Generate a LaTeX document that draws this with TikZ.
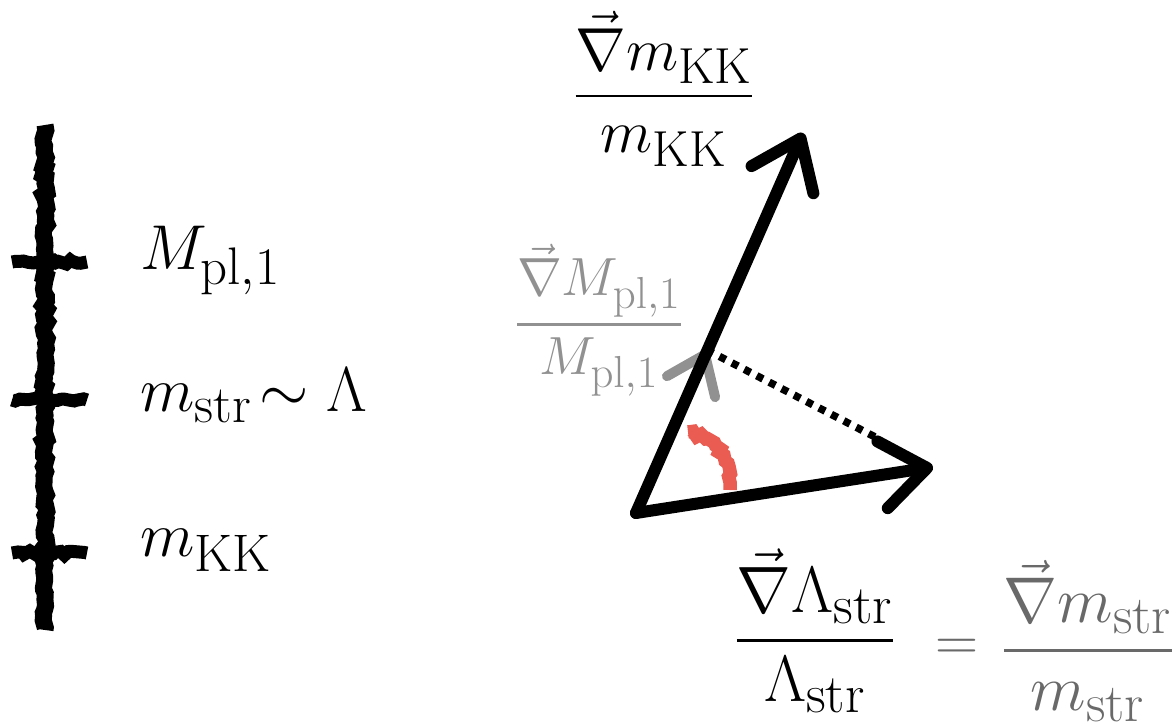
\documentclass[tikz,border=0pt]{standalone}
\usepackage{amsmath}
\usepackage{xcolor}
\usetikzlibrary{arrows.meta,decorations.pathmorphing,calc}
\definecolor{brushred}{RGB}{234,92,82}
\definecolor{lightgray}{RGB}{145,145,145}
\definecolor{midgray}{RGB}{105,105,105}

\begin{document}
\begin{tikzpicture}[
    label/.style={font=\Huge, inner sep=0pt, scale=#1, transform shape},
    label/.default=1.366,
    rough/.style={decorate, decoration={random steps, segment length=2.5pt, amplitude=1.2pt}},
    vec/.style={draw=#1, line width=0.24cm, line cap=round,
                -{Straight Barb[length=0.9cm, width=1.35cm, round]}},
]
\useasboundingbox (0,0) rectangle (23.52,14.44);

% Skala
\draw[rough, line width=0.34cm] (0.9,11.94) -- (0.9,1.84);
\foreach \y in {9.2,6.44,3.38}
  \draw[rough, line width=0.26cm] (0.24,\y) -- (1.74,\y);

\node[label=1.45, anchor=base west] (mpl) at (2.8,9.04) {$M_{\mathrm{pl},1}$};
\node[label=1.45, anchor=base west] (mstr) at (2.8,6.2) {$m_{\mathrm{str}}\!\sim\Lambda$};
\node[label=1.45, anchor=base west] (mkk) at (2.8,3.3) {$m_{\mathrm{KK}}$};

% Vektoren
\coordinate (O) at (12.72,4.18);
\coordinate (A) at (16.06,11.78);
\coordinate (B) at (18.66,5.10);
\coordinate (G) at (14.14,7.44);

\draw[vec=lightgray, line width=0.2cm, -{Straight Barb[length=0.7cm, width=1.05cm, round]}] (O) -- (G);
\draw[vec=black] (O) -- (A);
\draw[vec=black] (O) -- (B);
\draw[line width=0.15cm, dash pattern=on 0.14cm off 0.14cm] (G) -- ($(G)!0.76!(B)$);
\draw[rough, brushred, line width=0.27cm] (13.76,5.8) .. controls (14.4,5.64) and (14.68,5.14) .. (14.6,4.64);

% Beschriftungen
\node[label=1.39] (nkk) at (13.28,12.66) {$\dfrac{\vec{\nabla} m_{\mathrm{KK}}}{m_{\mathrm{KK}}}$};
\node[label=1.23, text=lightgray] (npl) at (11.98,8.04) {$\dfrac{\vec{\nabla} M_{\mathrm{pl},1}}{M_{\mathrm{pl},1}}$};
\node[label=1.5] (nlam) at (16.3,1.82) {$\dfrac{\vec{\nabla} \Lambda_{\mathrm{str}}}{\Lambda_{\mathrm{str}}}$};
\node[label, text=midgray] (eq) at (19.14,1.44) {$=$};
\node[label=1.48, text=midgray] (nstr) at (21.76,1.62) {$\dfrac{\vec{\nabla} m_{\mathrm{str}}}{m_{\mathrm{str}}}$};

\end{tikzpicture}
\end{document}
